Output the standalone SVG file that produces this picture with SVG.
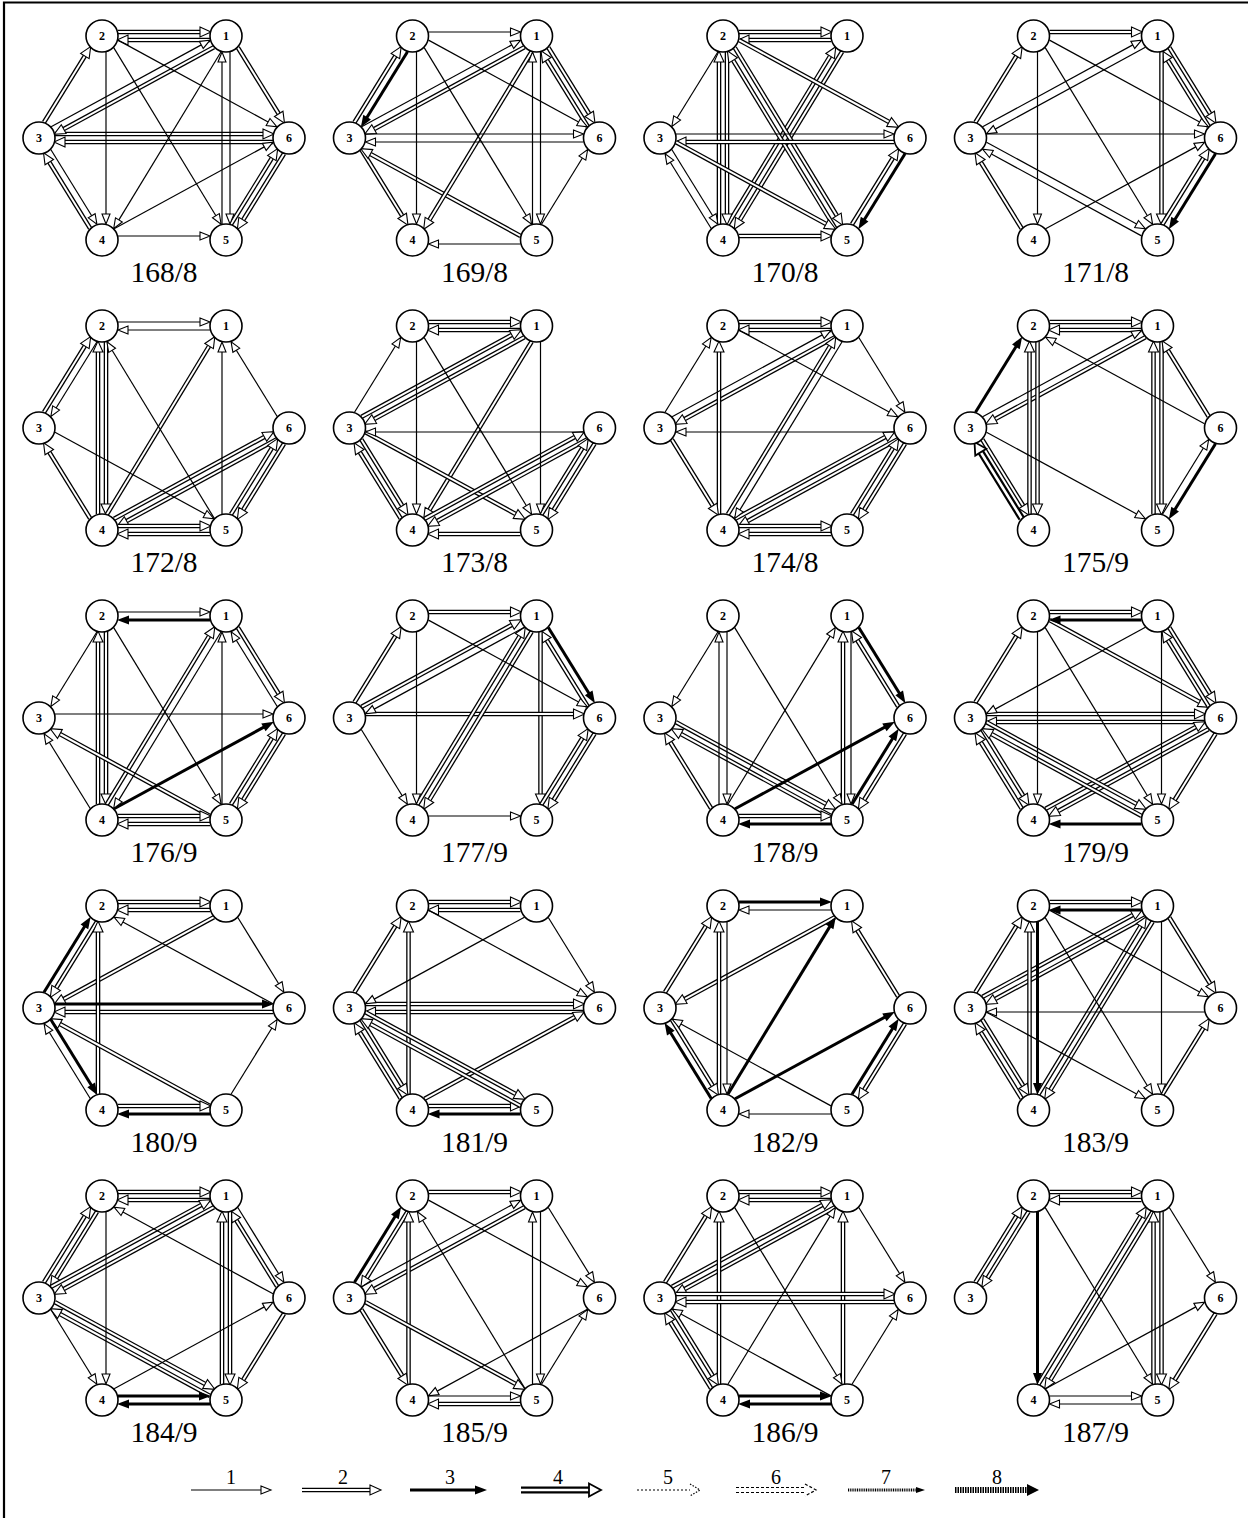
<svg xmlns="http://www.w3.org/2000/svg" width="1248" height="1518" viewBox="0 0 1248 1518">
<style>
.a{stroke:#000;stroke-width:1.2;fill:none;marker-end:url(#m1)}
.b{stroke:#000;stroke-width:4.6;fill:none}
.c{stroke:#fff;stroke-width:2;fill:none;marker-end:url(#m2)}
.d{stroke:#000;stroke-width:3;fill:none;marker-end:url(#m3)}
.f{stroke:#000;stroke-width:7;fill:none}
.g{stroke:#fff;stroke-width:2.6;fill:none;marker-end:url(#m4)}
.node circle{fill:#fff;stroke:#000;stroke-width:1.6}
.node text{font-family:"Liberation Serif",serif;font-size:12px;font-weight:bold;text-anchor:middle}
.lbl{font-family:"Liberation Serif",serif;font-size:29.5px;text-anchor:middle}
.lg{font-family:"Liberation Serif",serif;font-size:20px;text-anchor:middle}
</style>
<defs>
<marker id="m1" markerUnits="userSpaceOnUse" orient="auto" overflow="visible" markerWidth="1" markerHeight="1"><path d="M0,-4L10,0L0,4Z" fill="#fff" stroke="#000" stroke-width="1.1"/></marker>
<marker id="m2" markerUnits="userSpaceOnUse" orient="auto" overflow="visible" markerWidth="1" markerHeight="1"><path d="M0,-5L11,0L0,5Z" fill="#fff" stroke="#000" stroke-width="1.1"/></marker>
<marker id="m3" markerUnits="userSpaceOnUse" orient="auto" overflow="visible" markerWidth="1" markerHeight="1"><path d="M-1,-4.5L11,0L-1,4.5Z" fill="#000"/></marker>
<marker id="m4" markerUnits="userSpaceOnUse" orient="auto" overflow="visible" markerWidth="1" markerHeight="1"><path d="M0,-6.5L12,0L0,6.5Z" fill="#fff" stroke="#000" stroke-width="1.8"/></marker>
<path id="e21" d="M-46,-106L36,-106"/>
<path id="e12" d="M46,-98L-36,-98"/>
<path id="e36" d="M-109,-4L99,-4"/>
<path id="e63" d="M109,4L-99,4"/>
<path id="e45" d="M-46,98L36,98"/>
<path id="e54" d="M46,106L-36,106"/>
<path id="e24" d="M-58,-86L-58,76"/>
<path id="e42" d="M-66,86L-66,-76"/>
<path id="e15" d="M66,-86L66,76"/>
<path id="e51" d="M58,86L58,-76"/>
<path id="e32" d="M-120,-15.7L-79.1,-82"/>
<path id="e23" d="M-67,-86.3L-107.9,-20"/>
<path id="e16" d="M73.8,-90.5L114.7,-24.2"/>
<path id="e61" d="M113.2,-11.5L72.3,-77.8"/>
<path id="e34" d="M-113.2,11.5L-72.3,77.8"/>
<path id="e43" d="M-73.8,90.5L-114.7,24.2"/>
<path id="e65" d="M120,15.7L79.1,82"/>
<path id="e56" d="M67,86.3L107.9,20"/>
<path id="e31" d="M-112.9,-11.2L37.3,-93.1"/>
<path id="e13" d="M49.9,-90.8L-100.3,-8.9"/>
<path id="e26" d="M-46,-97.9L104.1,-16"/>
<path id="e62" d="M109,-4.2L-41.1,-86"/>
<path id="e35" d="M-109,4.2L41.1,86"/>
<path id="e53" d="M46,97.9L-104.1,16"/>
<path id="e41" d="M-57.1,86.3L45.1,-81.9"/>
<path id="e14" d="M57.1,-86.3L-45.1,81.9"/>
<path id="e25" d="M-50.3,-90.4L51.9,77.7"/>
<path id="e52" d="M50.3,90.4L-51.9,-77.7"/>
<path id="e46" d="M-49.9,90.8L100.3,8.9"/>
<path id="e64" d="M112.9,11.2L-37.3,93.1"/>
</defs>
<rect width="1248" height="1518" fill="#fff"/>
<path d="M4,1518V2.5H1248" fill="none" stroke="#000" stroke-width="2.2"/>

<g id="g168" transform="translate(164,138)">
<g id="g168-edges">
<use href="#e21" class="b"/><use href="#e21" class="c"/><use href="#e12" class="b"/><use href="#e12" class="c"/><use href="#e32" class="b"/><use href="#e32" class="c"/><use href="#e43" class="b"/><use href="#e43" class="c"/><use href="#e36" class="b"/><use href="#e36" class="c"/><use href="#e63" class="b"/><use href="#e63" class="c"/><use href="#e13" class="b"/><use href="#e13" class="c"/><use href="#e65" class="b"/><use href="#e65" class="c"/><use href="#e56" class="b"/><use href="#e56" class="c"/><use href="#e16" class="b"/><use href="#e16" class="c"/>
<use href="#e24" class="a"/><use href="#e34" class="a"/><use href="#e31" class="a"/><use href="#e14" class="a"/><use href="#e51" class="a"/><use href="#e15" class="a"/><use href="#e25" class="a"/><use href="#e26" class="a"/><use href="#e46" class="a"/><use href="#e45" class="a"/>
</g>
<g id="g168-n1" class="node"><circle cx="62" cy="-102" r="16"/><text x="62" y="-98">1</text></g>
<g id="g168-n2" class="node"><circle cx="-62" cy="-102" r="16"/><text x="-62" y="-98">2</text></g>
<g id="g168-n3" class="node"><circle cx="-125" cy="0" r="16"/><text x="-125" y="4">3</text></g>
<g id="g168-n4" class="node"><circle cx="-62" cy="102" r="16"/><text x="-62" y="106">4</text></g>
<g id="g168-n5" class="node"><circle cx="62" cy="102" r="16"/><text x="62" y="106">5</text></g>
<g id="g168-n6" class="node"><circle cx="125" cy="0" r="16"/><text x="125" y="4">6</text></g>
<text class="lbl" x="0" y="144">168/8</text>
</g>

<g id="g169" transform="translate(474.5,138)">
<g id="g169-edges">
<use href="#e13" class="b"/><use href="#e13" class="c"/><use href="#e32" class="b"/><use href="#e32" class="c"/><use href="#e34" class="b"/><use href="#e34" class="c"/><use href="#e53" class="b"/><use href="#e53" class="c"/><use href="#e14" class="b"/><use href="#e14" class="c"/><use href="#e16" class="b"/><use href="#e16" class="c"/><use href="#e61" class="b"/><use href="#e61" class="c"/>
<use href="#e23" class="d"/>
<use href="#e21" class="a"/><use href="#e31" class="a"/><use href="#e24" class="a"/><use href="#e36" class="a"/><use href="#e63" class="a"/><use href="#e26" class="a"/><use href="#e25" class="a"/><use href="#e15" class="a"/><use href="#e51" class="a"/><use href="#e56" class="a"/><use href="#e54" class="a"/>
</g>
<g id="g169-n1" class="node"><circle cx="62" cy="-102" r="16"/><text x="62" y="-98">1</text></g>
<g id="g169-n2" class="node"><circle cx="-62" cy="-102" r="16"/><text x="-62" y="-98">2</text></g>
<g id="g169-n3" class="node"><circle cx="-125" cy="0" r="16"/><text x="-125" y="4">3</text></g>
<g id="g169-n4" class="node"><circle cx="-62" cy="102" r="16"/><text x="-62" y="106">4</text></g>
<g id="g169-n5" class="node"><circle cx="62" cy="102" r="16"/><text x="62" y="106">5</text></g>
<g id="g169-n6" class="node"><circle cx="125" cy="0" r="16"/><text x="125" y="4">6</text></g>
<text class="lbl" x="0" y="144">169/8</text>
</g>

<g id="g170" transform="translate(785,138)">
<g id="g170-edges">
<use href="#e21" class="b"/><use href="#e21" class="c"/><use href="#e12" class="b"/><use href="#e12" class="c"/><use href="#e14" class="b"/><use href="#e14" class="c"/><use href="#e41" class="b"/><use href="#e41" class="c"/><use href="#e24" class="b"/><use href="#e24" class="c"/><use href="#e42" class="b"/><use href="#e42" class="c"/><use href="#e25" class="b"/><use href="#e25" class="c"/><use href="#e52" class="b"/><use href="#e52" class="c"/><use href="#e26" class="b"/><use href="#e26" class="c"/><use href="#e63" class="b"/><use href="#e63" class="c"/><use href="#e35" class="b"/><use href="#e35" class="c"/><use href="#e56" class="b"/><use href="#e56" class="c"/><use href="#e45" class="b"/><use href="#e45" class="c"/>
<use href="#e65" class="d"/>
<use href="#e23" class="a"/><use href="#e36" class="a"/><use href="#e34" class="a"/><use href="#e43" class="a"/>
</g>
<g id="g170-n1" class="node"><circle cx="62" cy="-102" r="16"/><text x="62" y="-98">1</text></g>
<g id="g170-n2" class="node"><circle cx="-62" cy="-102" r="16"/><text x="-62" y="-98">2</text></g>
<g id="g170-n3" class="node"><circle cx="-125" cy="0" r="16"/><text x="-125" y="4">3</text></g>
<g id="g170-n4" class="node"><circle cx="-62" cy="102" r="16"/><text x="-62" y="106">4</text></g>
<g id="g170-n5" class="node"><circle cx="62" cy="102" r="16"/><text x="62" y="106">5</text></g>
<g id="g170-n6" class="node"><circle cx="125" cy="0" r="16"/><text x="125" y="4">6</text></g>
<text class="lbl" x="0" y="144">170/8</text>
</g>

<g id="g171" transform="translate(1095.5,138)">
<g id="g171-edges">
<use href="#e21" class="b"/><use href="#e21" class="c"/><use href="#e32" class="b"/><use href="#e32" class="c"/><use href="#e43" class="b"/><use href="#e43" class="c"/><use href="#e16" class="b"/><use href="#e16" class="c"/><use href="#e61" class="b"/><use href="#e61" class="c"/><use href="#e15" class="b"/><use href="#e15" class="c"/><use href="#e56" class="b"/><use href="#e56" class="c"/>
<use href="#e65" class="d"/>
<use href="#e31" class="a"/><use href="#e24" class="a"/><use href="#e13" class="a"/><use href="#e36" class="a"/><use href="#e35" class="a"/><use href="#e26" class="a"/><use href="#e25" class="a"/><use href="#e46" class="a"/><use href="#e53" class="a"/>
</g>
<g id="g171-n1" class="node"><circle cx="62" cy="-102" r="16"/><text x="62" y="-98">1</text></g>
<g id="g171-n2" class="node"><circle cx="-62" cy="-102" r="16"/><text x="-62" y="-98">2</text></g>
<g id="g171-n3" class="node"><circle cx="-125" cy="0" r="16"/><text x="-125" y="4">3</text></g>
<g id="g171-n4" class="node"><circle cx="-62" cy="102" r="16"/><text x="-62" y="106">4</text></g>
<g id="g171-n5" class="node"><circle cx="62" cy="102" r="16"/><text x="62" y="106">5</text></g>
<g id="g171-n6" class="node"><circle cx="125" cy="0" r="16"/><text x="125" y="4">6</text></g>
<text class="lbl" x="0" y="144">171/8</text>
</g>

<g id="g172" transform="translate(164,428)">
<g id="g172-edges">
<use href="#e32" class="b"/><use href="#e32" class="c"/><use href="#e42" class="b"/><use href="#e42" class="c"/><use href="#e24" class="b"/><use href="#e24" class="c"/><use href="#e41" class="b"/><use href="#e41" class="c"/><use href="#e43" class="b"/><use href="#e43" class="c"/><use href="#e46" class="b"/><use href="#e46" class="c"/><use href="#e64" class="b"/><use href="#e64" class="c"/><use href="#e56" class="b"/><use href="#e56" class="c"/><use href="#e65" class="b"/><use href="#e65" class="c"/><use href="#e45" class="b"/><use href="#e45" class="c"/><use href="#e54" class="b"/><use href="#e54" class="c"/>
<use href="#e21" class="a"/><use href="#e12" class="a"/><use href="#e23" class="a"/><use href="#e52" class="a"/><use href="#e51" class="a"/><use href="#e61" class="a"/><use href="#e35" class="a"/>
</g>
<g id="g172-n1" class="node"><circle cx="62" cy="-102" r="16"/><text x="62" y="-98">1</text></g>
<g id="g172-n2" class="node"><circle cx="-62" cy="-102" r="16"/><text x="-62" y="-98">2</text></g>
<g id="g172-n3" class="node"><circle cx="-125" cy="0" r="16"/><text x="-125" y="4">3</text></g>
<g id="g172-n4" class="node"><circle cx="-62" cy="102" r="16"/><text x="-62" y="106">4</text></g>
<g id="g172-n5" class="node"><circle cx="62" cy="102" r="16"/><text x="62" y="106">5</text></g>
<g id="g172-n6" class="node"><circle cx="125" cy="0" r="16"/><text x="125" y="4">6</text></g>
<text class="lbl" x="0" y="144">172/8</text>
</g>

<g id="g173" transform="translate(474.5,428)">
<g id="g173-edges">
<use href="#e21" class="b"/><use href="#e21" class="c"/><use href="#e12" class="b"/><use href="#e12" class="c"/><use href="#e13" class="b"/><use href="#e13" class="c"/><use href="#e31" class="b"/><use href="#e31" class="c"/><use href="#e14" class="b"/><use href="#e14" class="c"/><use href="#e34" class="b"/><use href="#e34" class="c"/><use href="#e43" class="b"/><use href="#e43" class="c"/><use href="#e35" class="b"/><use href="#e35" class="c"/><use href="#e46" class="b"/><use href="#e46" class="c"/><use href="#e64" class="b"/><use href="#e64" class="c"/><use href="#e56" class="b"/><use href="#e56" class="c"/><use href="#e65" class="b"/><use href="#e65" class="c"/><use href="#e54" class="b"/><use href="#e54" class="c"/>
<use href="#e32" class="a"/><use href="#e24" class="a"/><use href="#e15" class="a"/><use href="#e25" class="a"/><use href="#e63" class="a"/>
</g>
<g id="g173-n1" class="node"><circle cx="62" cy="-102" r="16"/><text x="62" y="-98">1</text></g>
<g id="g173-n2" class="node"><circle cx="-62" cy="-102" r="16"/><text x="-62" y="-98">2</text></g>
<g id="g173-n3" class="node"><circle cx="-125" cy="0" r="16"/><text x="-125" y="4">3</text></g>
<g id="g173-n4" class="node"><circle cx="-62" cy="102" r="16"/><text x="-62" y="106">4</text></g>
<g id="g173-n5" class="node"><circle cx="62" cy="102" r="16"/><text x="62" y="106">5</text></g>
<g id="g173-n6" class="node"><circle cx="125" cy="0" r="16"/><text x="125" y="4">6</text></g>
<text class="lbl" x="0" y="144">173/8</text>
</g>

<g id="g174" transform="translate(785,428)">
<g id="g174-edges">
<use href="#e21" class="b"/><use href="#e21" class="c"/><use href="#e12" class="b"/><use href="#e12" class="c"/><use href="#e13" class="b"/><use href="#e13" class="c"/><use href="#e42" class="b"/><use href="#e42" class="c"/><use href="#e41" class="b"/><use href="#e41" class="c"/><use href="#e34" class="b"/><use href="#e34" class="c"/><use href="#e46" class="b"/><use href="#e46" class="c"/><use href="#e64" class="b"/><use href="#e64" class="c"/><use href="#e56" class="b"/><use href="#e56" class="c"/><use href="#e65" class="b"/><use href="#e65" class="c"/><use href="#e45" class="b"/><use href="#e45" class="c"/><use href="#e54" class="b"/><use href="#e54" class="c"/>
<use href="#e32" class="a"/><use href="#e31" class="a"/><use href="#e16" class="a"/><use href="#e26" class="a"/><use href="#e63" class="a"/><use href="#e14" class="a"/>
</g>
<g id="g174-n1" class="node"><circle cx="62" cy="-102" r="16"/><text x="62" y="-98">1</text></g>
<g id="g174-n2" class="node"><circle cx="-62" cy="-102" r="16"/><text x="-62" y="-98">2</text></g>
<g id="g174-n3" class="node"><circle cx="-125" cy="0" r="16"/><text x="-125" y="4">3</text></g>
<g id="g174-n4" class="node"><circle cx="-62" cy="102" r="16"/><text x="-62" y="106">4</text></g>
<g id="g174-n5" class="node"><circle cx="62" cy="102" r="16"/><text x="62" y="106">5</text></g>
<g id="g174-n6" class="node"><circle cx="125" cy="0" r="16"/><text x="125" y="4">6</text></g>
<text class="lbl" x="0" y="144">174/8</text>
</g>

<g id="g175" transform="translate(1095.5,428)">
<g id="g175-edges">
<use href="#e21" class="b"/><use href="#e21" class="c"/><use href="#e12" class="b"/><use href="#e12" class="c"/><use href="#e13" class="b"/><use href="#e13" class="c"/><use href="#e42" class="b"/><use href="#e42" class="c"/><use href="#e24" class="b"/><use href="#e24" class="c"/><use href="#e34" class="b"/><use href="#e34" class="c"/><use href="#e51" class="b"/><use href="#e51" class="c"/><use href="#e15" class="b"/><use href="#e15" class="c"/><use href="#e61" class="b"/><use href="#e61" class="c"/>
<use href="#e43" class="f"/><use href="#e43" class="g"/>
<use href="#e32" class="d"/><use href="#e65" class="d"/>
<use href="#e31" class="a"/><use href="#e62" class="a"/><use href="#e35" class="a"/><use href="#e56" class="a"/>
</g>
<g id="g175-n1" class="node"><circle cx="62" cy="-102" r="16"/><text x="62" y="-98">1</text></g>
<g id="g175-n2" class="node"><circle cx="-62" cy="-102" r="16"/><text x="-62" y="-98">2</text></g>
<g id="g175-n3" class="node"><circle cx="-125" cy="0" r="16"/><text x="-125" y="4">3</text></g>
<g id="g175-n4" class="node"><circle cx="-62" cy="102" r="16"/><text x="-62" y="106">4</text></g>
<g id="g175-n5" class="node"><circle cx="62" cy="102" r="16"/><text x="62" y="106">5</text></g>
<g id="g175-n6" class="node"><circle cx="125" cy="0" r="16"/><text x="125" y="4">6</text></g>
<text class="lbl" x="0" y="144">175/9</text>
</g>

<g id="g176" transform="translate(164,718)">
<g id="g176-edges">
<use href="#e24" class="b"/><use href="#e24" class="c"/><use href="#e42" class="b"/><use href="#e42" class="c"/><use href="#e41" class="b"/><use href="#e41" class="c"/><use href="#e16" class="b"/><use href="#e16" class="c"/><use href="#e53" class="b"/><use href="#e53" class="c"/><use href="#e56" class="b"/><use href="#e56" class="c"/><use href="#e65" class="b"/><use href="#e65" class="c"/><use href="#e45" class="b"/><use href="#e45" class="c"/><use href="#e54" class="b"/><use href="#e54" class="c"/>
<use href="#e12" class="d"/><use href="#e46" class="d"/>
<use href="#e21" class="a"/><use href="#e23" class="a"/><use href="#e61" class="a"/><use href="#e36" class="a"/><use href="#e43" class="a"/><use href="#e51" class="a"/><use href="#e25" class="a"/><use href="#e14" class="a"/>
</g>
<g id="g176-n1" class="node"><circle cx="62" cy="-102" r="16"/><text x="62" y="-98">1</text></g>
<g id="g176-n2" class="node"><circle cx="-62" cy="-102" r="16"/><text x="-62" y="-98">2</text></g>
<g id="g176-n3" class="node"><circle cx="-125" cy="0" r="16"/><text x="-125" y="4">3</text></g>
<g id="g176-n4" class="node"><circle cx="-62" cy="102" r="16"/><text x="-62" y="106">4</text></g>
<g id="g176-n5" class="node"><circle cx="62" cy="102" r="16"/><text x="62" y="106">5</text></g>
<g id="g176-n6" class="node"><circle cx="125" cy="0" r="16"/><text x="125" y="4">6</text></g>
<text class="lbl" x="0" y="144">176/9</text>
</g>

<g id="g177" transform="translate(474.5,718)">
<g id="g177-edges">
<use href="#e21" class="b"/><use href="#e21" class="c"/><use href="#e32" class="b"/><use href="#e32" class="c"/><use href="#e31" class="b"/><use href="#e31" class="c"/><use href="#e61" class="b"/><use href="#e61" class="c"/><use href="#e15" class="b"/><use href="#e15" class="c"/><use href="#e36" class="b"/><use href="#e36" class="c"/><use href="#e41" class="b"/><use href="#e41" class="c"/><use href="#e14" class="b"/><use href="#e14" class="c"/><use href="#e56" class="b"/><use href="#e56" class="c"/><use href="#e65" class="b"/><use href="#e65" class="c"/>
<use href="#e16" class="d"/>
<use href="#e13" class="a"/><use href="#e26" class="a"/><use href="#e34" class="a"/><use href="#e24" class="a"/><use href="#e45" class="a"/>
</g>
<g id="g177-n1" class="node"><circle cx="62" cy="-102" r="16"/><text x="62" y="-98">1</text></g>
<g id="g177-n2" class="node"><circle cx="-62" cy="-102" r="16"/><text x="-62" y="-98">2</text></g>
<g id="g177-n3" class="node"><circle cx="-125" cy="0" r="16"/><text x="-125" y="4">3</text></g>
<g id="g177-n4" class="node"><circle cx="-62" cy="102" r="16"/><text x="-62" y="106">4</text></g>
<g id="g177-n5" class="node"><circle cx="62" cy="102" r="16"/><text x="62" y="106">5</text></g>
<g id="g177-n6" class="node"><circle cx="125" cy="0" r="16"/><text x="125" y="4">6</text></g>
<text class="lbl" x="0" y="144">177/9</text>
</g>

<g id="g178" transform="translate(785,718)">
<g id="g178-edges">
<use href="#e61" class="b"/><use href="#e61" class="c"/><use href="#e51" class="b"/><use href="#e51" class="c"/><use href="#e35" class="b"/><use href="#e35" class="c"/><use href="#e53" class="b"/><use href="#e53" class="c"/><use href="#e43" class="b"/><use href="#e43" class="c"/><use href="#e65" class="b"/><use href="#e65" class="c"/><use href="#e45" class="b"/><use href="#e45" class="c"/>
<use href="#e16" class="d"/><use href="#e46" class="d"/><use href="#e56" class="d"/><use href="#e54" class="d"/>
<use href="#e23" class="a"/><use href="#e42" class="a"/><use href="#e24" class="a"/><use href="#e25" class="a"/><use href="#e41" class="a"/><use href="#e15" class="a"/>
</g>
<g id="g178-n1" class="node"><circle cx="62" cy="-102" r="16"/><text x="62" y="-98">1</text></g>
<g id="g178-n2" class="node"><circle cx="-62" cy="-102" r="16"/><text x="-62" y="-98">2</text></g>
<g id="g178-n3" class="node"><circle cx="-125" cy="0" r="16"/><text x="-125" y="4">3</text></g>
<g id="g178-n4" class="node"><circle cx="-62" cy="102" r="16"/><text x="-62" y="106">4</text></g>
<g id="g178-n5" class="node"><circle cx="62" cy="102" r="16"/><text x="62" y="106">5</text></g>
<g id="g178-n6" class="node"><circle cx="125" cy="0" r="16"/><text x="125" y="4">6</text></g>
<text class="lbl" x="0" y="144">178/9</text>
</g>

<g id="g179" transform="translate(1095.5,718)">
<g id="g179-edges">
<use href="#e21" class="b"/><use href="#e21" class="c"/><use href="#e32" class="b"/><use href="#e32" class="c"/><use href="#e26" class="b"/><use href="#e26" class="c"/><use href="#e16" class="b"/><use href="#e16" class="c"/><use href="#e61" class="b"/><use href="#e61" class="c"/><use href="#e36" class="b"/><use href="#e36" class="c"/><use href="#e63" class="b"/><use href="#e63" class="c"/><use href="#e34" class="b"/><use href="#e34" class="c"/><use href="#e43" class="b"/><use href="#e43" class="c"/><use href="#e46" class="b"/><use href="#e46" class="c"/><use href="#e64" class="b"/><use href="#e64" class="c"/><use href="#e35" class="b"/><use href="#e35" class="c"/><use href="#e53" class="b"/><use href="#e53" class="c"/><use href="#e65" class="b"/><use href="#e65" class="c"/>
<use href="#e54" class="d"/><use href="#e12" class="d"/>
<use href="#e13" class="a"/><use href="#e15" class="a"/><use href="#e25" class="a"/><use href="#e24" class="a"/>
</g>
<g id="g179-n1" class="node"><circle cx="62" cy="-102" r="16"/><text x="62" y="-98">1</text></g>
<g id="g179-n2" class="node"><circle cx="-62" cy="-102" r="16"/><text x="-62" y="-98">2</text></g>
<g id="g179-n3" class="node"><circle cx="-125" cy="0" r="16"/><text x="-125" y="4">3</text></g>
<g id="g179-n4" class="node"><circle cx="-62" cy="102" r="16"/><text x="-62" y="106">4</text></g>
<g id="g179-n5" class="node"><circle cx="62" cy="102" r="16"/><text x="62" y="106">5</text></g>
<g id="g179-n6" class="node"><circle cx="125" cy="0" r="16"/><text x="125" y="4">6</text></g>
<text class="lbl" x="0" y="144">179/9</text>
</g>

<g id="g180" transform="translate(164,1008)">
<g id="g180-edges">
<use href="#e21" class="b"/><use href="#e21" class="c"/><use href="#e12" class="b"/><use href="#e12" class="c"/><use href="#e23" class="b"/><use href="#e23" class="c"/><use href="#e13" class="b"/><use href="#e13" class="c"/><use href="#e63" class="b"/><use href="#e63" class="c"/><use href="#e42" class="b"/><use href="#e42" class="c"/><use href="#e53" class="b"/><use href="#e53" class="c"/><use href="#e45" class="b"/><use href="#e45" class="c"/>
<use href="#e32" class="d"/><use href="#e36" class="d"/><use href="#e34" class="d"/><use href="#e54" class="d"/>
<use href="#e62" class="a"/><use href="#e16" class="a"/><use href="#e43" class="a"/><use href="#e56" class="a"/>
</g>
<g id="g180-n1" class="node"><circle cx="62" cy="-102" r="16"/><text x="62" y="-98">1</text></g>
<g id="g180-n2" class="node"><circle cx="-62" cy="-102" r="16"/><text x="-62" y="-98">2</text></g>
<g id="g180-n3" class="node"><circle cx="-125" cy="0" r="16"/><text x="-125" y="4">3</text></g>
<g id="g180-n4" class="node"><circle cx="-62" cy="102" r="16"/><text x="-62" y="106">4</text></g>
<g id="g180-n5" class="node"><circle cx="62" cy="102" r="16"/><text x="62" y="106">5</text></g>
<g id="g180-n6" class="node"><circle cx="125" cy="0" r="16"/><text x="125" y="4">6</text></g>
<text class="lbl" x="0" y="144">180/9</text>
</g>

<g id="g181" transform="translate(474.5,1008)">
<g id="g181-edges">
<use href="#e21" class="b"/><use href="#e21" class="c"/><use href="#e12" class="b"/><use href="#e12" class="c"/><use href="#e32" class="b"/><use href="#e32" class="c"/><use href="#e36" class="b"/><use href="#e36" class="c"/><use href="#e63" class="b"/><use href="#e63" class="c"/><use href="#e42" class="b"/><use href="#e42" class="c"/><use href="#e43" class="b"/><use href="#e43" class="c"/><use href="#e34" class="b"/><use href="#e34" class="c"/><use href="#e46" class="b"/><use href="#e46" class="c"/><use href="#e35" class="b"/><use href="#e35" class="c"/><use href="#e45" class="b"/><use href="#e45" class="c"/><use href="#e53" class="b"/><use href="#e53" class="c"/>
<use href="#e54" class="d"/>
<use href="#e13" class="a"/><use href="#e26" class="a"/><use href="#e16" class="a"/>
</g>
<g id="g181-n1" class="node"><circle cx="62" cy="-102" r="16"/><text x="62" y="-98">1</text></g>
<g id="g181-n2" class="node"><circle cx="-62" cy="-102" r="16"/><text x="-62" y="-98">2</text></g>
<g id="g181-n3" class="node"><circle cx="-125" cy="0" r="16"/><text x="-125" y="4">3</text></g>
<g id="g181-n4" class="node"><circle cx="-62" cy="102" r="16"/><text x="-62" y="106">4</text></g>
<g id="g181-n5" class="node"><circle cx="62" cy="102" r="16"/><text x="62" y="106">5</text></g>
<g id="g181-n6" class="node"><circle cx="125" cy="0" r="16"/><text x="125" y="4">6</text></g>
<text class="lbl" x="0" y="144">181/9</text>
</g>

<g id="g182" transform="translate(785,1008)">
<g id="g182-edges">
<use href="#e13" class="b"/><use href="#e13" class="c"/><use href="#e32" class="b"/><use href="#e32" class="c"/><use href="#e42" class="b"/><use href="#e42" class="c"/><use href="#e61" class="b"/><use href="#e61" class="c"/><use href="#e65" class="b"/><use href="#e65" class="c"/><use href="#e34" class="b"/><use href="#e34" class="c"/>
<use href="#e21" class="d"/><use href="#e41" class="d"/><use href="#e43" class="d"/><use href="#e46" class="d"/><use href="#e56" class="d"/>
<use href="#e12" class="a"/><use href="#e53" class="a"/><use href="#e54" class="a"/><use href="#e24" class="a"/>
</g>
<g id="g182-n1" class="node"><circle cx="62" cy="-102" r="16"/><text x="62" y="-98">1</text></g>
<g id="g182-n2" class="node"><circle cx="-62" cy="-102" r="16"/><text x="-62" y="-98">2</text></g>
<g id="g182-n3" class="node"><circle cx="-125" cy="0" r="16"/><text x="-125" y="4">3</text></g>
<g id="g182-n4" class="node"><circle cx="-62" cy="102" r="16"/><text x="-62" y="106">4</text></g>
<g id="g182-n5" class="node"><circle cx="62" cy="102" r="16"/><text x="62" y="106">5</text></g>
<g id="g182-n6" class="node"><circle cx="125" cy="0" r="16"/><text x="125" y="4">6</text></g>
<text class="lbl" x="0" y="144">182/9</text>
</g>

<g id="g183" transform="translate(1095.5,1008)">
<g id="g183-edges">
<use href="#e21" class="b"/><use href="#e21" class="c"/><use href="#e32" class="b"/><use href="#e32" class="c"/><use href="#e13" class="b"/><use href="#e13" class="c"/><use href="#e31" class="b"/><use href="#e31" class="c"/><use href="#e42" class="b"/><use href="#e42" class="c"/><use href="#e16" class="b"/><use href="#e16" class="c"/><use href="#e14" class="b"/><use href="#e14" class="c"/><use href="#e41" class="b"/><use href="#e41" class="c"/><use href="#e34" class="b"/><use href="#e34" class="c"/><use href="#e43" class="b"/><use href="#e43" class="c"/><use href="#e56" class="b"/><use href="#e56" class="c"/>
<use href="#e12" class="d"/><use href="#e24" class="d"/>
<use href="#e26" class="a"/><use href="#e63" class="a"/><use href="#e25" class="a"/><use href="#e35" class="a"/><use href="#e15" class="a"/>
</g>
<g id="g183-n1" class="node"><circle cx="62" cy="-102" r="16"/><text x="62" y="-98">1</text></g>
<g id="g183-n2" class="node"><circle cx="-62" cy="-102" r="16"/><text x="-62" y="-98">2</text></g>
<g id="g183-n3" class="node"><circle cx="-125" cy="0" r="16"/><text x="-125" y="4">3</text></g>
<g id="g183-n4" class="node"><circle cx="-62" cy="102" r="16"/><text x="-62" y="106">4</text></g>
<g id="g183-n5" class="node"><circle cx="62" cy="102" r="16"/><text x="62" y="106">5</text></g>
<g id="g183-n6" class="node"><circle cx="125" cy="0" r="16"/><text x="125" y="4">6</text></g>
<text class="lbl" x="0" y="144">183/9</text>
</g>

<g id="g184" transform="translate(164,1298)">
<g id="g184-edges">
<use href="#e21" class="b"/><use href="#e21" class="c"/><use href="#e12" class="b"/><use href="#e12" class="c"/><use href="#e23" class="b"/><use href="#e23" class="c"/><use href="#e32" class="b"/><use href="#e32" class="c"/><use href="#e13" class="b"/><use href="#e13" class="c"/><use href="#e31" class="b"/><use href="#e31" class="c"/><use href="#e61" class="b"/><use href="#e61" class="c"/><use href="#e15" class="b"/><use href="#e15" class="c"/><use href="#e51" class="b"/><use href="#e51" class="c"/><use href="#e35" class="b"/><use href="#e35" class="c"/><use href="#e53" class="b"/><use href="#e53" class="c"/><use href="#e65" class="b"/><use href="#e65" class="c"/>
<use href="#e45" class="d"/><use href="#e54" class="d"/>
<use href="#e62" class="a"/><use href="#e24" class="a"/><use href="#e16" class="a"/><use href="#e46" class="a"/><use href="#e34" class="a"/>
</g>
<g id="g184-n1" class="node"><circle cx="62" cy="-102" r="16"/><text x="62" y="-98">1</text></g>
<g id="g184-n2" class="node"><circle cx="-62" cy="-102" r="16"/><text x="-62" y="-98">2</text></g>
<g id="g184-n3" class="node"><circle cx="-125" cy="0" r="16"/><text x="-125" y="4">3</text></g>
<g id="g184-n4" class="node"><circle cx="-62" cy="102" r="16"/><text x="-62" y="106">4</text></g>
<g id="g184-n5" class="node"><circle cx="62" cy="102" r="16"/><text x="62" y="106">5</text></g>
<g id="g184-n6" class="node"><circle cx="125" cy="0" r="16"/><text x="125" y="4">6</text></g>
<text class="lbl" x="0" y="144">184/9</text>
</g>

<g id="g185" transform="translate(474.5,1298)">
<g id="g185-edges">
<use href="#e21" class="b"/><use href="#e21" class="c"/><use href="#e23" class="b"/><use href="#e23" class="c"/><use href="#e13" class="b"/><use href="#e13" class="c"/><use href="#e42" class="b"/><use href="#e42" class="c"/><use href="#e35" class="b"/><use href="#e35" class="c"/><use href="#e34" class="b"/><use href="#e34" class="c"/><use href="#e54" class="b"/><use href="#e54" class="c"/>
<use href="#e32" class="d"/>
<use href="#e31" class="a"/><use href="#e52" class="a"/><use href="#e26" class="a"/><use href="#e16" class="a"/><use href="#e15" class="a"/><use href="#e51" class="a"/><use href="#e56" class="a"/><use href="#e64" class="a"/><use href="#e45" class="a"/>
</g>
<g id="g185-n1" class="node"><circle cx="62" cy="-102" r="16"/><text x="62" y="-98">1</text></g>
<g id="g185-n2" class="node"><circle cx="-62" cy="-102" r="16"/><text x="-62" y="-98">2</text></g>
<g id="g185-n3" class="node"><circle cx="-125" cy="0" r="16"/><text x="-125" y="4">3</text></g>
<g id="g185-n4" class="node"><circle cx="-62" cy="102" r="16"/><text x="-62" y="106">4</text></g>
<g id="g185-n5" class="node"><circle cx="62" cy="102" r="16"/><text x="62" y="106">5</text></g>
<g id="g185-n6" class="node"><circle cx="125" cy="0" r="16"/><text x="125" y="4">6</text></g>
<text class="lbl" x="0" y="144">185/9</text>
</g>

<g id="g186" transform="translate(785,1298)">
<g id="g186-edges">
<use href="#e21" class="b"/><use href="#e21" class="c"/><use href="#e12" class="b"/><use href="#e12" class="c"/><use href="#e32" class="b"/><use href="#e32" class="c"/><use href="#e13" class="b"/><use href="#e13" class="c"/><use href="#e31" class="b"/><use href="#e31" class="c"/><use href="#e42" class="b"/><use href="#e42" class="c"/><use href="#e51" class="b"/><use href="#e51" class="c"/><use href="#e36" class="b"/><use href="#e36" class="c"/><use href="#e63" class="b"/><use href="#e63" class="c"/><use href="#e43" class="b"/><use href="#e43" class="c"/><use href="#e34" class="b"/><use href="#e34" class="c"/>
<use href="#e45" class="d"/><use href="#e54" class="d"/>
<use href="#e25" class="a"/><use href="#e41" class="a"/><use href="#e16" class="a"/><use href="#e53" class="a"/><use href="#e56" class="a"/>
</g>
<g id="g186-n1" class="node"><circle cx="62" cy="-102" r="16"/><text x="62" y="-98">1</text></g>
<g id="g186-n2" class="node"><circle cx="-62" cy="-102" r="16"/><text x="-62" y="-98">2</text></g>
<g id="g186-n3" class="node"><circle cx="-125" cy="0" r="16"/><text x="-125" y="4">3</text></g>
<g id="g186-n4" class="node"><circle cx="-62" cy="102" r="16"/><text x="-62" y="106">4</text></g>
<g id="g186-n5" class="node"><circle cx="62" cy="102" r="16"/><text x="62" y="106">5</text></g>
<g id="g186-n6" class="node"><circle cx="125" cy="0" r="16"/><text x="125" y="4">6</text></g>
<text class="lbl" x="0" y="144">186/9</text>
</g>

<g id="g187" transform="translate(1095.5,1298)">
<g id="g187-edges">
<use href="#e21" class="b"/><use href="#e21" class="c"/><use href="#e12" class="b"/><use href="#e12" class="c"/><use href="#e32" class="b"/><use href="#e32" class="c"/><use href="#e23" class="b"/><use href="#e23" class="c"/><use href="#e14" class="b"/><use href="#e14" class="c"/><use href="#e41" class="b"/><use href="#e41" class="c"/><use href="#e51" class="b"/><use href="#e51" class="c"/><use href="#e15" class="b"/><use href="#e15" class="c"/><use href="#e65" class="b"/><use href="#e65" class="c"/>
<use href="#e24" class="d"/>
<use href="#e25" class="a"/><use href="#e16" class="a"/><use href="#e46" class="a"/><use href="#e45" class="a"/><use href="#e54" class="a"/>
</g>
<g id="g187-n1" class="node"><circle cx="62" cy="-102" r="16"/><text x="62" y="-98">1</text></g>
<g id="g187-n2" class="node"><circle cx="-62" cy="-102" r="16"/><text x="-62" y="-98">2</text></g>
<g id="g187-n3" class="node"><circle cx="-125" cy="0" r="16"/><text x="-125" y="4">3</text></g>
<g id="g187-n4" class="node"><circle cx="-62" cy="102" r="16"/><text x="-62" y="106">4</text></g>
<g id="g187-n5" class="node"><circle cx="62" cy="102" r="16"/><text x="62" y="106">5</text></g>
<g id="g187-n6" class="node"><circle cx="125" cy="0" r="16"/><text x="125" y="4">6</text></g>
<text class="lbl" x="0" y="144">187/9</text>
</g>

<g id="legend">
<path class="a" d="M191,1490H261"/>
<path class="b" d="M302,1490H370"/><path class="c" d="M302,1490H370"/>
<path class="d" d="M410,1490H476"/>
<path class="f" d="M521,1490H589"/><path class="g" d="M521,1490H589"/>
<path d="M637,1490H690" stroke="#000" stroke-width="1.2" stroke-dasharray="2,2" fill="none"/>
<path d="M690,1484L700,1490L690,1496" stroke="#000" stroke-width="1.2" stroke-dasharray="1.5,1.5" fill="none"/>
<path d="M736,1487.5H805M736,1492.5H805" stroke="#000" stroke-width="1.2" stroke-dasharray="3,2" fill="none"/>
<path d="M805,1484L816,1490L805,1496" stroke="#000" stroke-width="1.2" stroke-dasharray="3,2" fill="none"/>
<path d="M848,1490H916" stroke="#000" stroke-width="3" stroke-dasharray="1,0.8" fill="none"/>
<path d="M916,1487L925,1490L916,1493Z" fill="#000"/>
<path d="M955,1490H1027" stroke="#000" stroke-width="6" stroke-dasharray="1.5,1" fill="none"/>
<path d="M1027,1484L1039,1490L1027,1496Z" fill="#000"/>
<text class="lg" x="231" y="1484">1</text>
<text class="lg" x="343" y="1484">2</text>
<text class="lg" x="450" y="1484">3</text>
<text class="lg" x="558" y="1484">4</text>
<text class="lg" x="668" y="1484">5</text>
<text class="lg" x="776" y="1484">6</text>
<text class="lg" x="886" y="1484">7</text>
<text class="lg" x="997" y="1484">8</text>
</g>
</svg>
